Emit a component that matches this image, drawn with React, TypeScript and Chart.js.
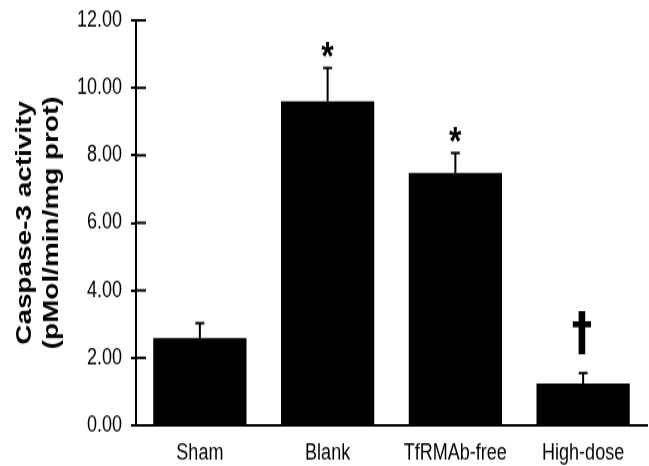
import React, { useEffect, useRef } from 'react';
import { Chart, registerables } from 'chart.js';

Chart.register(...registerables);

// ---- data ----
const categories = ['Sham', 'Blank', 'TfRMAb-free', 'High-dose'];
const meanValues = [2.59, 9.6, 7.48, 1.24];
const errorValues = [0.44, 0.99, 0.59, 0.31];
const markers = ['', '*', '*', '†'];
const yMin = 0;
const yMax = 12;
const yStep = 2;
const yTitleLines = ['Caspase-3 activity', '(pMol/min/mg prot)'];

// ---- layout / style ----
const PAGE_W = 649;
const PAGE_H = 466;
const STRETCH = 1.27; // the reference figure is stretched vertically
const CANVAS_H = Math.round(PAGE_H / STRETCH);
const FONT = "'Liberation Sans', Arial, Helvetica, sans-serif";
const INK = '#000';

const markerGap: Record<string, number> = { '*': 8, '†': 15 };
const markerFont: Record<string, string> = {
  '*': `bold 32px ${FONT}`,
  '†': `bold 41px 'DejaVu Sans', ${FONT}`,
};

const decorPlugin = {
  id: 'decor',
  afterDatasetsDraw(chart: any) {
    const { ctx, chartArea } = chart;
    const yScale = chart.scales.y;
    const meta = chart.getDatasetMeta(0);
    ctx.save();
    ctx.strokeStyle = INK;
    ctx.fillStyle = INK;
    ctx.lineWidth = 2;

    // inner half of the y-axis tick marks
    yScale.ticks.forEach((t: any) => {
      const y = yScale.getPixelForValue(t.value);
      ctx.beginPath();
      ctx.moveTo(chartArea.left, y);
      ctx.lineTo(chartArea.left + 10, y);
      ctx.stroke();
    });

    meta.data.forEach((bar: any, i: number) => {
      const x = bar.x;
      const yTop = bar.y;
      const yErr = yScale.getPixelForValue(meanValues[i] + errorValues[i]);
      // upper error bar
      ctx.beginPath();
      ctx.moveTo(x, yTop);
      ctx.lineTo(x, yErr);
      ctx.moveTo(x - 4.5, yErr);
      ctx.lineTo(x + 4.5, yErr);
      ctx.stroke();

      const mk = markers[i];
      if (mk) {
        ctx.font = markerFont[mk];
        ctx.textAlign = 'left';
        ctx.textBaseline = 'alphabetic';
        const m = ctx.measureText(mk);
        const wVis = m.actualBoundingBoxRight - m.actualBoundingBoxLeft;
        const tx = x - wVis / 2 + m.actualBoundingBoxLeft;
        const ty = yErr - markerGap[mk] - m.actualBoundingBoxDescent;
        ctx.fillText(mk, tx, ty);
      }
    });
    ctx.restore();
  },
};

export default function App() {
  const canvasRef = useRef<HTMLCanvasElement | null>(null);

  useEffect(() => {
    const canvas = canvasRef.current;
    if (!canvas) return;
    const chart = new Chart(canvas, {
      type: 'bar',
      data: {
        labels: categories,
        datasets: [
          {
            data: meanValues,
            backgroundColor: INK,
            borderWidth: 0,
            barPercentage: 0.73,
            categoryPercentage: 1,
          },
        ],
      },
      options: {
        responsive: false,
        animation: false,
        devicePixelRatio: 1,
        layout: { padding: { left: 11, right: 2, top: 16, bottom: 0 } },
        plugins: {
          legend: { display: false },
          tooltip: { enabled: false },
        },
        scales: {
          x: {
            grid: { display: false, drawTicks: false },
            border: { display: true, color: INK, width: 2 },
            ticks: {
              color: INK,
              font: { family: FONT, size: 18 },
              padding: 11,
              maxRotation: 0,
              autoSkip: false,
            },
            afterFit: (s: any) => {
              s.height = 32;
            },
          },
          y: {
            min: yMin,
            max: yMax,
            ticks: {
              stepSize: yStep,
              callback: (v: any) => Number(v).toFixed(2),
              color: INK,
              font: { family: FONT, size: 18 },
              padding: 9,
            },
            grid: {
              display: true,
              drawOnChartArea: false,
              drawTicks: true,
              tickLength: 5,
              color: INK,
              lineWidth: 2,
            },
            border: { display: true, color: INK, width: 2 },
            title: {
              display: true,
              text: yTitleLines,
              color: INK,
              font: { family: FONT, size: 22, weight: 'bold', lineHeight: 1.23 },
              padding: { top: 0, bottom: 0 },
            },
            afterFit: (s: any) => {
              s.width = 125;
              s.paddingTop = 0;
            },
          },
        },
      },
      plugins: [decorPlugin],
    });
    return () => chart.destroy();
  }, []);

  return (
    <div
      style={{
        position: 'fixed',
        left: 0,
        top: 0,
        width: PAGE_W,
        height: PAGE_H,
        background: '#fff',
      }}
    >
      <canvas
        ref={canvasRef}
        width={PAGE_W}
        height={CANVAS_H}
        style={{ width: `${PAGE_W}px`, height: `${PAGE_H}px`, display: 'block' }}
      />
    </div>
  );
}
